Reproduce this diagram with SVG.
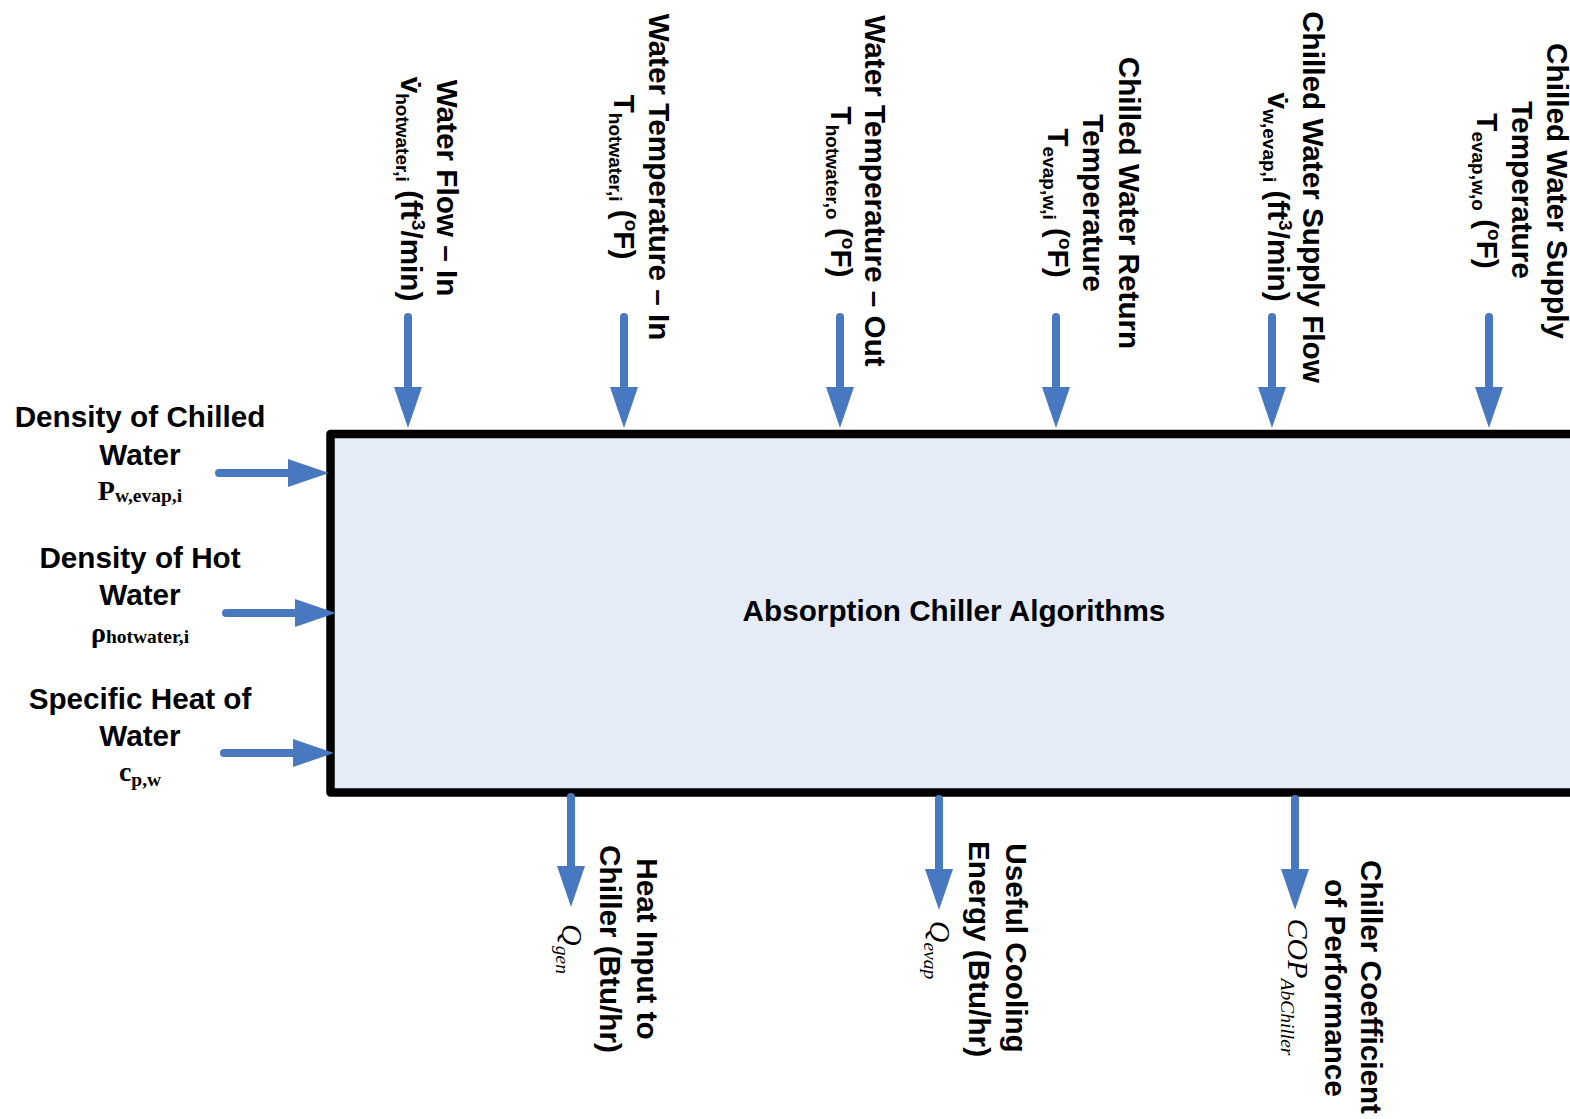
<svg xmlns="http://www.w3.org/2000/svg" width="1570" height="1119" viewBox="0 0 1570 1119">
  <style>
    .t { font-family: "Liberation Sans", Arial, sans-serif; font-weight: bold; font-size: 29.7px; fill: #000; }
    .mid { text-anchor: middle; }
    .s { font-size: 19px; }
    .m { font-family: "Liberation Serif", "Times New Roman", serif; font-weight: bold; font-size: 28px; fill: #000; }
    .ms { font-size: 19.5px; }
    .mi { font-family: "Liberation Serif", "Times New Roman", serif; font-style: italic; font-size: 30px; fill: #000; }
    .mis { font-size: 19.5px; }
    .arrow { stroke: #4878C0; stroke-width: 8; stroke-linecap: round; fill: none; marker-end: url(#ah); }
    .box { fill: #E6ECF7; stroke: #000; stroke-width: 8.5; stroke-linejoin: round; }
  </style>
  <defs>
    <marker id="ah" markerUnits="userSpaceOnUse" viewBox="0 0 42 28" markerWidth="42" markerHeight="28" refX="1" refY="14" orient="auto">
      <path d="M0,0 L41,14 L0,28 Z" fill="#4878C0"/>
    </marker>
  </defs>
  <rect width="1570" height="1119" fill="#fff"/>

  <!-- main process block -->
  <g id="chiller">
    <rect class="box" x="330.5" y="434" width="1400" height="358.5"/>
    <text class="t mid" x="954" y="621" font-size="30">Absorption Chiller Algorithms</text>
  </g>

  <!-- connectors -->
  <g id="connectors">
    <line class="arrow" x1="408" y1="317" x2="408" y2="388"/>
    <line class="arrow" x1="624" y1="317" x2="624" y2="388"/>
    <line class="arrow" x1="840" y1="317" x2="840" y2="388"/>
    <line class="arrow" x1="1056" y1="317" x2="1056" y2="388"/>
    <line class="arrow" x1="1272" y1="317" x2="1272" y2="388"/>
    <line class="arrow" x1="1489" y1="317" x2="1489" y2="388"/>
    <line class="arrow" x1="219" y1="473" x2="289" y2="473"/>
    <line class="arrow" x1="226" y1="613" x2="296" y2="613"/>
    <line class="arrow" x1="224" y1="753" x2="294" y2="753"/>
    <line class="arrow" x1="571" y1="797" x2="571" y2="867"/>
    <line class="arrow" x1="939" y1="799" x2="939" y2="870"/>
    <line class="arrow" x1="1295" y1="799" x2="1295" y2="870"/>
  </g>

  <!-- inputs from the top -->
  <g id="in-hot-flow">
    <text class="t mid" transform="translate(437,188) rotate(90)">Water Flow – In</text>
    <text class="t mid" transform="translate(401,189) rotate(90)">v̇<tspan class="s" dy="5">hotwater,i</tspan><tspan dy="-5"> (ft</tspan><tspan class="s" dy="-11">3</tspan><tspan dy="11">/min)</tspan></text>
  </g>
  <g id="in-hot-temp">
    <text class="t mid" transform="translate(649,177) rotate(90)">Water Temperature – In</text>
    <text class="t mid" transform="translate(614,177) rotate(90)">T<tspan class="s" dy="5">hotwater,i</tspan><tspan dy="-5"> (</tspan><tspan class="s" dy="-11">o</tspan><tspan dy="11">F)</tspan></text>
  </g>
  <g id="out-hot-temp">
    <text class="t mid" transform="translate(865,191) rotate(90)">Water Temperature – Out</text>
    <text class="t mid" transform="translate(831,192) rotate(90)">T<tspan class="s" dy="5">hotwater,o</tspan><tspan dy="-5"> (</tspan><tspan class="s" dy="-11">o</tspan><tspan dy="11">F)</tspan></text>
  </g>
  <g id="chw-return-temp">
    <text class="t mid" transform="translate(1119,203) rotate(90)">Chilled Water Return</text>
    <text class="t mid" transform="translate(1083,203) rotate(90)">Temperature</text>
    <text class="t mid" transform="translate(1048,203) rotate(90)">T<tspan class="s" dy="5">evap,w,i</tspan><tspan dy="-5"> (</tspan><tspan class="s" dy="-11">o</tspan><tspan dy="11">F)</tspan></text>
  </g>
  <g id="chw-supply-flow">
    <text class="t mid" transform="translate(1303,197) rotate(90)">Chilled Water Supply Flow</text>
    <text class="t mid" transform="translate(1268,197) rotate(90)">v̇<tspan class="s" dy="5">w,evap,i</tspan><tspan dy="-5"> (ft</tspan><tspan class="s" dy="-11">3</tspan><tspan dy="11">/min)</tspan></text>
  </g>
  <g id="chw-supply-temp">
    <text class="t mid" transform="translate(1547,191) rotate(90)">Chilled Water Supply</text>
    <text class="t mid" transform="translate(1512,190) rotate(90)">Temperature</text>
    <text class="t mid" transform="translate(1477,191) rotate(90)">T<tspan class="s" dy="5">evap,w,o</tspan><tspan dy="-5"> (</tspan><tspan class="s" dy="-11">o</tspan><tspan dy="11">F)</tspan></text>
  </g>

  <!-- inputs from the left -->
  <g id="density-chilled">
    <text class="t mid" x="140" y="427">Density of Chilled</text>
    <text class="t mid" x="140" y="465">Water</text>
    <text class="m mid" x="140" y="500">P<tspan class="ms" dy="2">w,evap,i</tspan></text>
  </g>
  <g id="density-hot">
    <text class="t mid" x="140" y="568">Density of Hot</text>
    <text class="t mid" x="140" y="605">Water</text>
    <text class="m mid" x="140" y="642">ρ<tspan class="ms" dy="1">hotwater,i</tspan></text>
  </g>
  <g id="specific-heat">
    <text class="t mid" x="140" y="709">Specific Heat of</text>
    <text class="t mid" x="140" y="746">Water</text>
    <text class="m mid" x="140" y="781">c<tspan class="ms" dy="5">p,w</tspan></text>
  </g>

  <!-- outputs at the bottom -->
  <g id="heat-input">
    <text class="t mid" transform="translate(637,949) rotate(90)">Heat Input to</text>
    <text class="t mid" transform="translate(600,949) rotate(90)">Chiller (Btu/hr)</text>
    <text class="mi mid" transform="translate(562,949) rotate(90)">Q<tspan class="mis" dy="6">gen</tspan></text>
  </g>
  <g id="cooling-energy">
    <text class="t mid" transform="translate(1006,948) rotate(90)">Useful Cooling</text>
    <text class="t mid" transform="translate(969,949) rotate(90)">Energy (Btu/hr)</text>
    <text class="mi mid" transform="translate(930,950) rotate(90)">Q<tspan class="mis" dy="6">evap</tspan></text>
  </g>
  <g id="cop">
    <text class="t mid" transform="translate(1361,987) rotate(90)">Chiller Coefficient</text>
    <text class="t mid" transform="translate(1325,988) rotate(90)">of Performance</text>
    <text class="mi mid" transform="translate(1288,987) rotate(90)">COP<tspan class="mis" dy="7">AbChiller</tspan></text>
  </g>
</svg>
